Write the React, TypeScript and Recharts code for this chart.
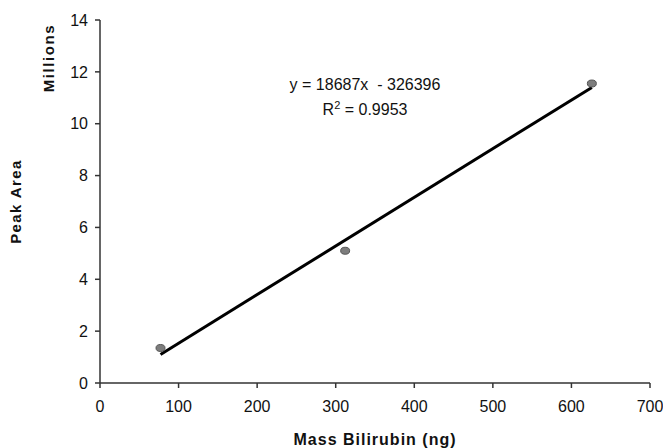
import React from 'react';
import { ScatterChart, Scatter, XAxis, YAxis, ResponsiveContainer } from 'recharts';

// measured points (ng, millions)
const massNg: number[] = [77, 312, 626];
const peakAreaM: number[] = [1.35, 5.1, 11.55];

// trend line ends
const trendX: number[] = [77, 626];
const trendY: number[] = [1.1, 11.4];

const xTicks: number[] = [0, 100, 200, 300, 400, 500, 600, 700];
const yTicks: number[] = [0, 2, 4, 6, 8, 10, 12, 14];

const points = massNg.map((x, i) => ({ x, y: peakAreaM[i] }));
const trend = trendX.map((x, i) => ({ x, y: trendY[i] }));

const font = 'Arial, "Liberation Sans", sans-serif';

const Dot = (props: any) => {
	const { cx, cy } = props;
	if (cx == null || cy == null) return <g />;
	return <ellipse cx={cx} cy={cy} rx={4.5} ry={3.5} fill='#7d7d7d' stroke='#555' strokeWidth={1} />;
};

const Empty = () => <g />;

const App = () => {
	return (
		<div style={{ position: 'absolute', left: 0, top: 0, width: 663, height: 448, background: '#fff', fontFamily: font }}>
			<ResponsiveContainer width={663} height={448}>
				<ScatterChart margin={{ top: 20, right: 13, left: 0, bottom: 0 }}>
					<XAxis
						type='number'
						dataKey='x'
						domain={[0, 700]}
						ticks={xTicks}
						height={65}
						tickSize={5}
						tickMargin={13}
						stroke='#333'
						strokeWidth={1.5}
						tick={{ fill: '#111', fontSize: 16, fontFamily: font }}
						label={{
							value: 'Mass Bilirubin (ng)',
							position: 'insideBottom',
							offset: 3,
							style: { fill: '#111', fontSize: 16, fontWeight: 'bold', letterSpacing: 1, fontFamily: font },
						}}
					/>
					<YAxis
						type='number'
						dataKey='y'
						domain={[0, 14]}
						ticks={yTicks}
						width={100}
						tickSize={5}
						tickMargin={7}
						stroke='#333'
						strokeWidth={1.5}
						tick={{ fill: '#111', fontSize: 16, fontFamily: font }}
						label={{
							value: 'Peak Area',
							angle: -90,
							position: 'insideLeft',
							offset: 16,
							style: { fill: '#111', fontSize: 15, fontWeight: 'bold', letterSpacing: 1.4, fontFamily: font, textAnchor: 'middle' },
						}}
					/>
					<Scatter
						data={trend}
						line={{ stroke: '#000', strokeWidth: 3 }}
						shape={Empty}
						isAnimationActive={false}
					/>
					<Scatter data={points} shape={Dot} isAnimationActive={false} />
				</ScatterChart>
			</ResponsiveContainer>
			<div
				style={{
					position: 'absolute',
					left: 48,
					top: 58,
					transform: 'translate(-50%, -50%) rotate(-90deg)',
					fontSize: 15,
					fontWeight: 'bold',
					letterSpacing: 1.6,
					color: '#111',
					whiteSpace: 'nowrap',
				}}>
				Millions
			</div>
			<div
				style={{
					position: 'absolute',
					left: 365,
					top: 72,
					transform: 'translateX(-50%)',
					fontSize: 16,
					color: '#111',
					textAlign: 'center',
					lineHeight: '25px',
					whiteSpace: 'nowrap',
				}}>
				<div>y = 18687x &nbsp;- 326396</div>
				<div>
					R<span style={{ fontSize: 11, position: 'relative', top: -6 }}>2</span> = 0.9953
				</div>
			</div>
		</div>
	);
};

export default App;
